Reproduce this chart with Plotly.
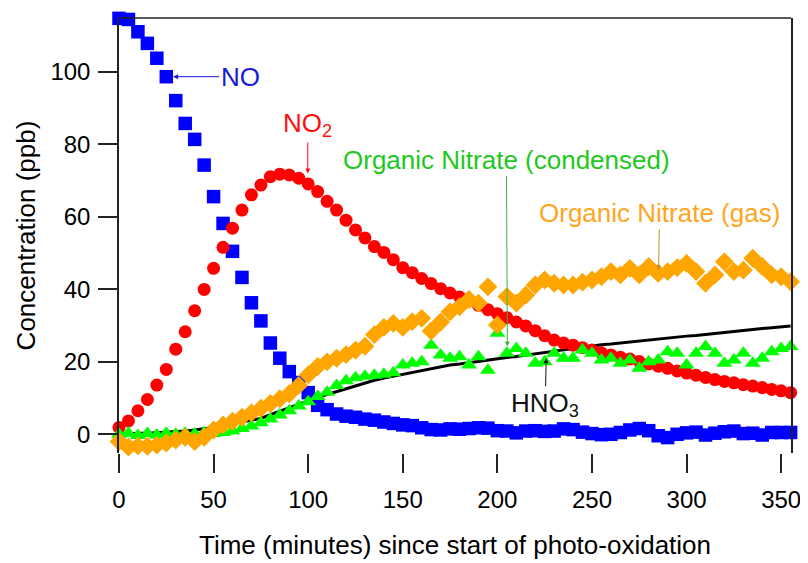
import plotly.graph_objects as go

# ---- data (time in minutes, concentrations in ppb) ----
time_min = [0, 5, 10, 15, 20, 25, 30, 35, 40, 45, 50, 55, 60, 65, 70, 75, 80, 85, 90, 95,
            100, 105, 110, 115, 120, 125, 130, 135, 140, 145, 150, 155, 160, 165, 170, 175,
            180, 185, 190, 195, 200, 205, 210, 215, 220, 225, 230, 235, 240, 245, 250, 255,
            260, 265, 270, 275, 280, 285, 290, 295, 300, 305, 310, 315, 320, 325, 330, 335,
            340, 345, 350, 355]

no_ppb = [114.8, 114.5, 111.1, 107.9, 103.8, 98.7, 92.1, 85.8, 81.4, 74.3,
          65.6, 58.2, 50.5, 43.3, 36.3, 31.3, 25.2, 21.0, 17.3, 14.3,
          11.5, 8.0, 6.8, 5.6, 5.0, 4.7, 4.2, 3.9, 3.4, 3.0,
          2.6, 2.4, 1.8, 1.3, 1.2, 1.5, 1.4, 1.6, 1.8, 1.7,
          1.0, 0.9, 0.4, 0.9, 1.0, 0.8, 0.9, 1.5, 1.3, 0.6,
          0.2, -0.1, 0.0, 0.5, 1.2, 1.6, 1.0, -0.4, -0.9, 0.0,
          0.4, 0.6, -0.2, 0.3, 0.7, 0.9, 0.2, 0.3, -0.2, 0.5,
          0.5, 0.5]

no2_ppb = [1.9, 3.7, 6.5, 9.6, 13.6, 17.9, 23.5, 28.3, 34.1, 40.0,
           45.8, 51.6, 56.9, 61.9, 66.1, 68.8, 71.1, 71.8, 71.6, 70.7,
           69.1, 67.0, 64.3, 61.9, 59.1, 56.4, 54.2, 51.8, 50.2, 48.2,
           46.0, 44.6, 43.0, 41.6, 40.2, 39.0, 37.9, 36.9, 35.6, 34.4,
           33.3, 32.2, 31.0, 29.9, 28.6, 27.2, 26.0, 25.2, 24.6, 23.9,
           23.3, 22.5, 21.9, 21.3, 20.8, 20.1, 19.4, 18.8, 18.2, 17.5,
           16.9, 16.3, 15.7, 15.1, 14.6, 14.2, 13.7, 13.3, 12.9, 12.4,
           12.0, 11.5]

hno3_ppb = [0.0, 0.2, 0.3, 0.3, 0.4, 0.5, 0.7, 0.9, 1.2, 1.5,
            1.9, 2.4, 2.9, 3.4, 3.8, 4.4, 5.4, 6.4, 7.3, 8.3,
            9.2, 10.2, 11.0, 11.8, 12.6, 13.4, 14.2, 14.9, 15.5, 16.0,
            16.5, 17.1, 17.6, 18.2, 18.7, 19.1, 19.4, 19.8, 20.1, 20.5,
            20.8, 21.2, 21.5, 21.9, 22.2, 22.6, 22.9, 23.3, 23.6, 24.0,
            24.3, 24.7, 24.9, 25.2, 25.5, 25.7, 26.0, 26.3, 26.5, 26.8,
            27.1, 27.3, 27.6, 27.9, 28.1, 28.4, 28.6, 28.9, 29.2, 29.4,
            29.7, 29.9]

orgn_cond_ppb = [0.0, 0.3, -0.3, 0.2, -0.2, 0.3, 0.0, 0.3, 0.1, 0.4,
                 0.2, 0.5, 0.9, 1.6, 2.3, 3.2, 4.2, 5.3, 6.5, 7.8,
                 9.0, 10.4, 11.6, 13.5, 14.8, 15.6, 16.0, 16.3, 16.6, 17.0,
                 19.1, 19.6, 20.0, 24.6, 21.9, 21.0, 21.4, 19.1, 21.4, 17.7,
                 27.9, 22.4, 23.7, 22.4, 19.6, 20.0, 22.4, 21.0, 21.0, 23.3,
                 22.4, 20.5, 21.0, 19.6, 20.5, 18.2, 20.0, 20.5, 22.8, 22.4,
                 19.1, 22.4, 24.2, 22.4, 19.6, 20.5, 22.4, 19.6, 21.0, 22.8,
                 23.7, 24.2]

orgn_gas_ppb = [-2.0, -3.5, -3.2, -3.3, -3.0, -2.4, -1.6, -0.8, -2.0, -0.8,
                1.2, 2.6, 3.6, 4.7, 5.9, 7.2, 8.5, 9.8, 11.2, 13.5,
                16.4, 18.7, 20.0, 21.0, 22.0, 23.2, 24.3, 27.5, 29.5, 30.6,
                29.5, 31.1, 32.0, 28.5, 31.0, 33.8, 35.2, 37.2, 36.2, 40.7,
                30.2, 38.0, 36.2, 38.4, 41.2, 42.6, 41.7, 41.2, 41.2, 42.0,
                42.6, 43.5, 44.9, 44.0, 45.8, 44.0, 46.3, 44.4, 44.9, 46.0,
                47.2, 44.9, 41.7, 44.0, 47.6, 44.9, 45.3, 48.6, 46.3, 44.0,
                43.5, 42.1]

x_ticks = [0, 50, 100, 150, 200, 250, 300, 350]
y_ticks = [0, 20, 40, 60, 80, 100]

FONT = "Arial, 'Liberation Sans', sans-serif"

fig = go.Figure()
fig.add_trace(go.Scatter(x=time_min, y=no_ppb, mode="markers", name="NO",
                         marker=dict(symbol="square", size=13.5, color="#0000FF"),
                         cliponaxis=False))
fig.add_trace(go.Scatter(x=time_min, y=hno3_ppb, mode="lines", name="HNO3",
                         line=dict(color="#000000", width=3), cliponaxis=False))
fig.add_trace(go.Scatter(x=time_min, y=no2_ppb, mode="markers", name="NO2",
                         marker=dict(symbol="circle", size=13, color="#FF0000"),
                         cliponaxis=False))
fig.add_trace(go.Scatter(x=time_min, y=orgn_cond_ppb, mode="markers",
                         name="Organic Nitrate (condensed)",
                         marker=dict(symbol="triangle-up", size=14, color="#00FF00"),
                         cliponaxis=False))
fig.add_trace(go.Scatter(x=time_min, y=orgn_gas_ppb, mode="markers",
                         name="Organic Nitrate (gas)",
                         marker=dict(symbol="diamond", size=14.5, color="#FFA500"),
                         cliponaxis=False))

def note(text, x, y, ax, ay, tcolor, acolor):
    return dict(text=text, x=x, y=y, ax=ax, ay=ay, xref="x", yref="y",
                showarrow=True, arrowhead=2, arrowsize=1, arrowwidth=1,
                arrowcolor=acolor, standoff=0, startstandoff=0,
                font=dict(family=FONT, size=26, color=tcolor))

annotations = [
    note("NO", 28.6, 98.7, 67, 0, "#1a1ad6", "#1a1ad6"),
    note("NO<sub>2</sub>", 99.8, 72.0, 0, -49, "#FF1010", "#FF1010"),
    note("Organic Nitrate (condensed)", 205.3, 24.2, -1, -187, "#1ec81e", "#3cb43c"),
    note("Organic Nitrate (gas)", 285.2, 45.3, 1, -57, "#FFA51E", "#C88C1E"),
    note("HNO<sub>3</sub>", 225.8, 21.0, -1, 46, "#111111", "#111111"),
]

# The page body has an 8 px margin, so the figure is 8 px smaller on each axis
fig.update_layout(
    width=800, height=555,
    margin=dict(l=111, r=17, t=10, b=110),
    paper_bgcolor="white", plot_bgcolor="white",
    showlegend=False,
    font=dict(family=FONT, color="#000000"),
    annotations=annotations,
    shapes=[dict(type="line", xref="paper", yref="paper", x0=0, x1=1, y0=1, y1=1,
                 line=dict(color="#222222", width=1.5))],
    xaxis=dict(range=[0, 355.2], tickmode="array", tickvals=x_ticks,
               ticktext=[str(v) for v in x_ticks],
               ticks="outside", ticklen=19, tickwidth=1.5, tickcolor="#222222",
               showline=False, showgrid=False, zeroline=False,
               tickfont=dict(size=24, color="#000000"), ticklabelstandoff=6,
               title=dict(text="Time (minutes) since start of photo-oxidation",
                          font=dict(size=26, color="#000000"), standoff=24),
               automargin=False),
    yaxis=dict(range=[-5.16, 114.9], tickmode="array", tickvals=y_ticks,
               ticktext=[str(v) for v in y_ticks],
               ticks="outside", ticklen=19, tickwidth=1.5, tickcolor="#222222",
               showline=True, mirror=True, linecolor="#222222", linewidth=1.5,
               showgrid=False, zeroline=False,
               tickfont=dict(size=24, color="#000000"), ticklabelstandoff=3,
               title=dict(text="Concentration (ppb)",
                          font=dict(size=26, color="#000000"), standoff=7),
               automargin=False),
)

fig.write_html("out.html")
